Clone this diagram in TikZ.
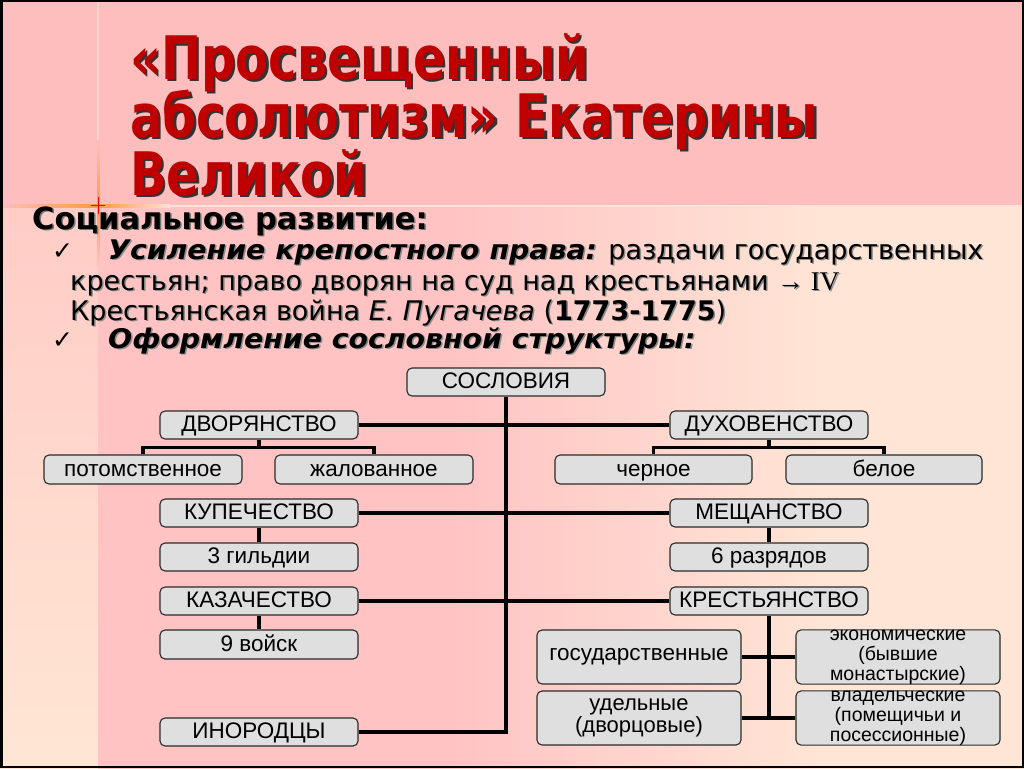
\documentclass[tikz,border=0pt]{standalone}
\usepackage{fontspec}
\setmainfont{Liberation Sans}
\newfontfamily\tfont{DejaVu Sans}
\newfontfamily\titlefont[FakeStretch=0.8]{DejaVu Sans}
\newfontfamily\bifont[FakeStretch=1.05]{DejaVu Sans}
\newfontfamily\serfont{Liberation Serif}
\usetikzlibrary{calc}
\definecolor{band}{HTML}{FFBEBE}
\definecolor{pinkB}{HTML}{FFC3C3}
\definecolor{peach}{HTML}{FFE5D6}
\definecolor{stripTop}{HTML}{FFCCC6}
\definecolor{stripBot}{HTML}{FFE6D4}
\definecolor{titlered}{HTML}{C00000}
\definecolor{boxfill}{HTML}{DFDFDF}
\definecolor{boxline}{HTML}{2A2A2A}
\definecolor{sepline}{HTML}{FFE2DA}
\definecolor{flare}{HTML}{FF9A40}
\pgfdeclarehorizontalshading{bodysh}{100bp}{color(0bp)=(pinkB); color(44bp)=(pinkB); color(64bp)=(peach); color(100bp)=(peach)}
\pgfdeclarelayer{bg}
\pgfdeclarelayer{edges}
\pgfsetlayers{bg,edges,main}
\newcommand\shadowed[3]{\makebox[0pt][l]{\kern#1\raisebox{-#1}{\color{#2}#3}}#3}
\newcommand\bitext[1]{{\bifont\bfseries\itshape #1}}
\tikzset{
  box/.style={draw=boxline, line width=1.1pt, fill=boxfill, rounded corners=5pt,
    minimum width=198pt, minimum height=28pt, inner sep=0pt,
    font=\fontsize{22.5}{24}\selectfont, align=center},
  single/.style={box, text height=14pt, text depth=1pt},
  tallbox/.style={box, minimum width=204pt, minimum height=54pt},
  small/.style={font=\fontsize{19.5}{19.8}\selectfont},
  link/.style={line width=3.3pt, black},
  titletxt/.style={anchor=base west, inner sep=0pt, text=titlered, font=\titlefont\bfseries\fontsize{60}{62}\selectfont},
  bodytxt/.style={anchor=base west, inner sep=0pt, text=black, font=\tfont\fontsize{27}{31}\selectfont},
  headtxt/.style={anchor=base west, inner sep=0pt, text=black, font=\tfont\bfseries\fontsize{30.5}{32}\selectfont},
  checktxt/.style={anchor=base west, inner sep=0pt, text=black, font=\tfont\fontsize{25}{28}\selectfont}
}
\begin{document}
\begin{tikzpicture}[x=1pt, y=-1pt]
\useasboundingbox (0,0) rectangle (1024,768);
\begin{pgfonlayer}{bg}
  \fill[band] (0,0) rectangle (1024,206);
  \shade[top color=stripTop, bottom color=stripBot] (0,206) rectangle (98,768);
  \shade[shading=bodysh] (98,206) rectangle (1024,768);
  \draw[sepline, line width=2pt] (0,206) -- (1024,206);
  \draw[sepline!60!band, line width=1.2pt] (98,0) -- (98,206);
  \shade[left color=band, right color=flare] (0,204.5) rectangle (98,207.5);
  \shade[left color=flare, right color=sepline] (98,204.5) rectangle (170,207.5);
  \shade[top color=band, bottom color=flare] (97,140) rectangle (99.5,205);
  \shade[top color=flare, bottom color=pinkB] (97,205) rectangle (99.5,265);
  \draw[red, line width=1pt] (91,205.5) -- (105,205.5);
  \draw[red, line width=1pt] (98.2,197) -- (98.2,214);
\end{pgfonlayer}
% title
\node[titletxt] (t1) at (130,79) {\shadowed{2.5pt}{black!80}{«Просвещенный}};
\node[titletxt] (t2) at (130,137) {\shadowed{2.5pt}{black!80}{абсолютизм» Екатерины}};
\node[titletxt] (t3) at (130,195) {\shadowed{2.5pt}{black!80}{Великой}};
% body text
\node[headtxt] (h1) at (32,229) {\shadowed{1.5pt}{black!55}{Социальное развитие:}};
\node[checktxt] (c1) at (52,259) {✓};
\node[bodytxt] (b1) at (108,259) {\shadowed{1.5pt}{black!45}{\bitext{Усиление крепостного права:} раздачи государственных}};
\node[bodytxt] (b2) at (70,290) {\shadowed{1.5pt}{black!45}{крестьян; право дворян на суд над крестьянами {\serfont →~IV}}};
\node[bodytxt] (b3) at (70,320) {\shadowed{1.5pt}{black!45}{Крестьянская война {\itshape Е. Пугачева} ({\bfseries 1773-1775})}};
\node[checktxt] (c2) at (52,348) {✓};
\node[bodytxt] (b4) at (108,348) {\shadowed{1.5pt}{black!45}{\bitext{Оформление сословной структуры:}}};
% diagram boxes
\node[single] (sos) at (506,382) {СОСЛОВИЯ};
\node[single] (dvor) at (259,425) {ДВОРЯНСТВО};
\node[single, minimum height=29pt] (potom) at (143,469.5) {потомственное};
\node[single, minimum height=29pt] (zhal) at (374,469.5) {жалованное};
\node[single] (duh) at (769,425) {ДУХОВЕНСТВО};
\node[single, minimum height=29pt, minimum width=197pt] (cher) at (653.5,469.5) {черное};
\node[single, minimum height=29pt, minimum width=196pt] (bel) at (884,469.5) {белое};
\node[single] (kup) at (259,513) {КУПЕЧЕСТВО};
\node[single] (gild) at (259,557) {3 гильдии};
\node[single] (mesh) at (769,513) {МЕЩАНСТВО};
\node[single] (razr) at (769,557) {6 разрядов};
\node[single] (kaz) at (259,601) {КАЗАЧЕСТВО};
\node[single, minimum height=29pt] (voisk) at (259,644.5) {9 войск};
\node[single] (krest) at (769,601) {КРЕСТЬЯНСТВО};
\node[tallbox] (gos) at (639,657) {государственные};
\node[tallbox, font=\fontsize{22}{21.5}\selectfont] (udel) at (639,718) {удельные\\(дворцовые)};
\node[tallbox, small] (ekon) at (898,657) {экономические\\(бывшие\\монастырские)};
\node[tallbox, small] (vlad) at (898,718) {владельческие\\(помещичьи и\\посессионные)};
\node[single] (inor) at (259,732) {ИНОРОДЦЫ};
\coordinate (dvj) at (259,447.5);
\coordinate (duj) at (769,447.5);
% connectors
\begin{pgfonlayer}{edges}
  \draw[link] (sos.south) |- (inor.east);
  \draw[link] (dvor.east) -- (duh.west);
  \draw[link] (kup.east) -- (mesh.west);
  \draw[link] (kaz.east) -- (krest.west);
  \draw[link] (dvor.south) -- (dvj);
  \draw[link] (potom.north) |- (dvj) -| (zhal.north);
  \draw[link] (duh.south) -- (duj);
  \draw[link] (cher.north) |- (duj) -| (bel.north);
  \draw[link] (kup.south) -- (gild.north);
  \draw[link] (mesh.south) -- (razr.north);
  \draw[link] (kaz.south) -- (voisk.north);
  \draw[link] (krest.south) -- (krest.south |- vlad.west);
  \draw[link] (gos.east) -- (ekon.west);
  \draw[link] (udel.east) -- (vlad.west);
\end{pgfonlayer}
\draw[black, line width=2.5pt] (1.25,1.25) rectangle (1022.75,766.75);
\end{tikzpicture}
\end{document}
